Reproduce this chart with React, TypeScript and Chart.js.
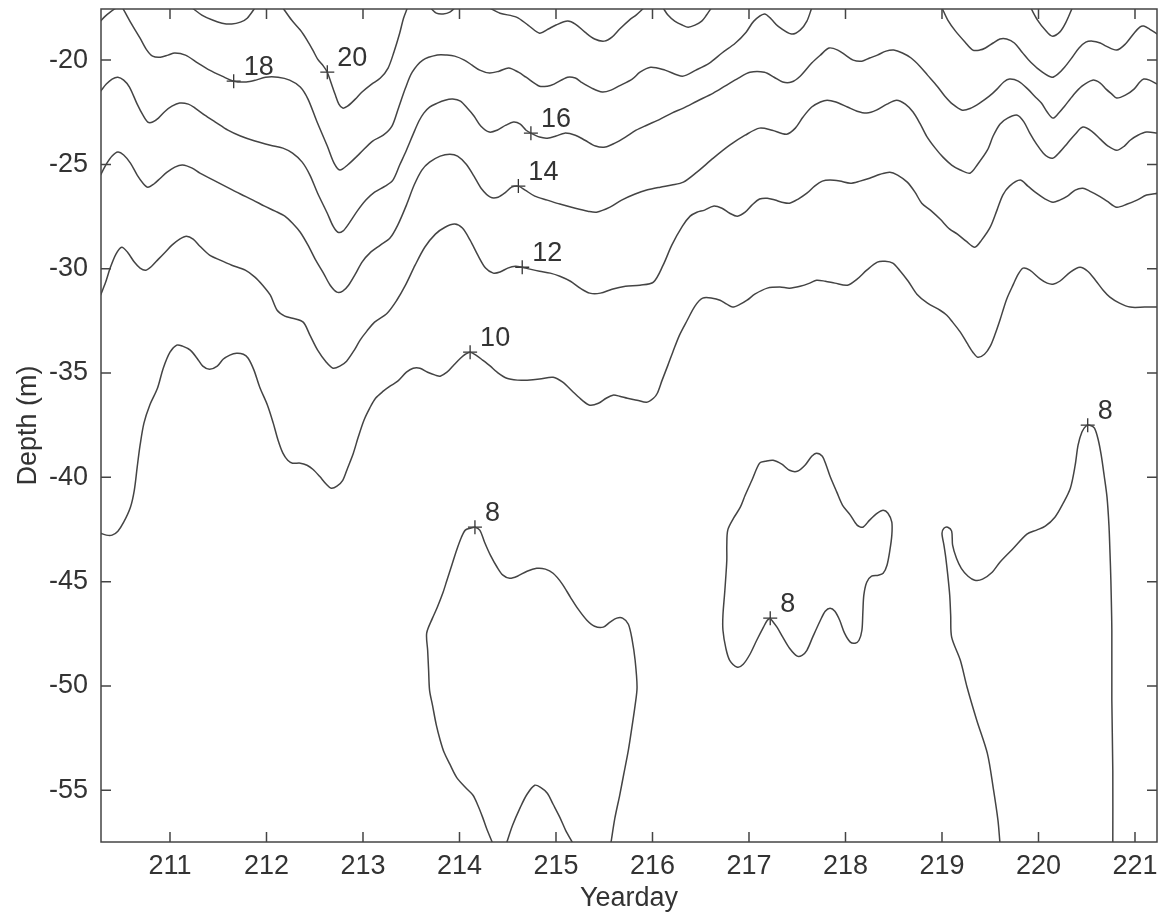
import React, { useEffect, useRef } from 'react';
import { Chart, registerables } from 'chart.js';

Chart.register(...registerables);

// Axis ticks
const xTicks = [211, 212, 213, 214, 215, 216, 217, 218, 219, 220, 221];
const yTicks = [-20, -25, -30, -35, -40, -45, -50, -55];

// Contour segments [yearday, depth]
const c22a = [[210.28, -18.13], [210.33, -17.89], [210.38, -17.70], [210.44, -17.5]];
const c22b = [[211.23, -17.5], [211.33, -17.84], [211.44, -18.08], [211.54, -18.23], [211.64, -18.27], [211.73, -18.18], [211.80, -17.99], [211.88, -17.5]];

const c20a = [[212.17, -17.5], [212.26, -18.08], [212.35, -18.56], [212.42, -19.04], [212.48, -19.52], [212.53, -19.95], [212.59, -20.29], [212.63, -20.58], [212.67, -21.10], [212.71, -21.63], [212.75, -22.11], [212.79, -22.30], [212.84, -22.21], [212.92, -21.87], [212.99, -21.53], [213.09, -21.15], [213.18, -20.86], [213.26, -20.38], [213.32, -19.62], [213.38, -18.71], [213.42, -17.99], [213.46, -17.5]];
const c20b = [[214.31, -17.5], [214.42, -17.75], [214.59, -17.94], [214.71, -18.32], [214.83, -18.71], [214.92, -18.51], [215.00, -18.32], [215.12, -18.13], [215.20, -18.27], [215.30, -18.66], [215.40, -18.99], [215.50, -19.09], [215.58, -18.90], [215.66, -18.51], [215.76, -18.08], [215.83, -17.84], [215.91, -17.5]];
const c20c = [[213.70, -17.5], [213.76, -17.75], [213.83, -17.79], [213.90, -17.70], [213.95, -17.5]];
const c20d = [[216.11, -17.5], [216.16, -17.84], [216.23, -18.13], [216.31, -18.32], [216.37, -18.42], [216.44, -18.32], [216.51, -18.13], [216.56, -17.84], [216.61, -17.5]];
const c20e = [[219.92, -17.5], [219.99, -18.08], [220.07, -18.56], [220.14, -18.85], [220.22, -18.66], [220.28, -18.23], [220.35, -17.5]];

const c18a = [[210.51, -17.5], [210.59, -18.18], [210.69, -18.95], [210.76, -19.52], [210.82, -19.81], [210.90, -19.86], [210.98, -19.76], [211.05, -19.66], [211.16, -19.76], [211.29, -20.14], [211.41, -20.48], [211.54, -20.77], [211.66, -21.01], [211.79, -21.05], [211.89, -20.96], [211.99, -20.82], [212.12, -20.82], [212.24, -20.96], [212.35, -21.29], [212.43, -21.87], [212.52, -22.92], [212.63, -24.12], [212.70, -24.94], [212.76, -25.27], [212.84, -25.03], [212.97, -24.46], [213.10, -23.88], [213.21, -23.60], [213.30, -23.16], [213.36, -22.40], [213.44, -21.34], [213.51, -20.58], [213.62, -20.00], [213.77, -19.76], [213.87, -19.76], [213.95, -19.81], [214.05, -20.00], [214.13, -20.24], [214.21, -20.48], [214.31, -20.62], [214.41, -20.53], [214.51, -20.38], [214.61, -20.58], [214.69, -20.82], [214.83, -21.25], [214.91, -21.25], [214.98, -21.15], [215.12, -20.82], [215.20, -20.86], [215.26, -21.05], [215.37, -21.34], [215.48, -21.53], [215.57, -21.44], [215.65, -21.25], [215.79, -20.91], [215.87, -20.58], [215.98, -20.34], [216.13, -20.48], [216.31, -20.77], [216.45, -20.48], [216.59, -20.14], [216.72, -19.66], [216.86, -19.18], [216.97, -18.66], [217.05, -18.13], [217.16, -17.79], [217.23, -18.03], [217.30, -18.37], [217.44, -18.75], [217.53, -18.56], [217.60, -18.13], [217.65, -17.5]];
const c18b = [[219.00, -17.5], [219.06, -18.08], [219.14, -18.61], [219.24, -19.14], [219.32, -19.52], [219.39, -19.52], [219.45, -19.42], [219.53, -19.18], [219.60, -18.99], [219.67, -18.99], [219.75, -19.18], [219.83, -19.62], [219.92, -20.10], [220.04, -20.58], [220.14, -20.82], [220.20, -20.67], [220.27, -20.34], [220.35, -19.86], [220.42, -19.42], [220.49, -19.14], [220.56, -19.09], [220.64, -19.18], [220.70, -19.33], [220.81, -19.52], [220.90, -19.23], [220.99, -18.71], [221.05, -18.42], [221.09, -18.37], [221.15, -18.51], [221.23, -18.75]];

const c16 = [[210.28, -21.49], [210.34, -21.15], [210.40, -20.91], [210.46, -20.82], [210.52, -20.96], [210.58, -21.29], [210.66, -22.11], [210.72, -22.64], [210.77, -22.97], [210.82, -22.97],
  [210.88, -22.78], [210.95, -22.45], [211.02, -22.21], [211.10, -22.06], [211.19, -22.11], [211.26, -22.30], [211.36, -22.64], [211.47, -22.97], [211.60, -23.36], [211.73, -23.64],
  [211.88, -23.88], [212.04, -24.08], [212.17, -24.22], [212.27, -24.46], [212.37, -24.89], [212.45, -25.51], [212.53, -26.38], [212.63, -27.34], [212.69, -27.96], [212.74, -28.25],
  [212.79, -28.20], [212.85, -27.86], [212.94, -27.24], [213.03, -26.71], [213.12, -26.33], [213.23, -26.04], [213.31, -25.75], [213.38, -25.03], [213.45, -24.32], [213.52, -23.55],
  [213.58, -22.92], [213.63, -22.54], [213.69, -22.25], [213.77, -22.06], [213.85, -21.92], [213.93, -21.87], [214.01, -21.97], [214.08, -22.30], [214.15, -22.68], [214.22, -23.16],
  [214.31, -23.45], [214.39, -23.36], [214.48, -23.12], [214.56, -22.97], [214.63, -23.07], [214.69, -23.36], [214.74, -23.50], [214.83, -23.69], [214.91, -23.74], [215.00, -23.64],
  [215.09, -23.50], [215.20, -23.60], [215.30, -23.84], [215.41, -24.12], [215.51, -24.17], [215.61, -23.98], [215.72, -23.69], [215.83, -23.36], [215.94, -23.12], [216.08, -22.83],
  [216.20, -22.54], [216.32, -22.30], [216.46, -21.97], [216.63, -21.58], [216.75, -21.25], [216.89, -20.86], [217.01, -20.58], [217.16, -20.58], [217.26, -20.82], [217.35, -21.05],
  [217.44, -21.05], [217.53, -20.77], [217.65, -20.14], [217.74, -19.76], [217.83, -19.42], [217.92, -19.52], [218.00, -19.76], [218.08, -20.00], [218.17, -20.05], [218.25, -19.90],
  [218.33, -19.76], [218.42, -19.57], [218.50, -19.52], [218.59, -19.66], [218.68, -19.90], [218.77, -20.29], [218.85, -20.72], [218.95, -21.25], [219.03, -21.73], [219.11, -22.11],
  [219.21, -22.40], [219.30, -22.30], [219.39, -22.06], [219.49, -21.73], [219.57, -21.39], [219.64, -21.05], [219.70, -20.91], [219.79, -21.01], [219.89, -21.39], [219.96, -21.73],
  [220.03, -22.06], [220.09, -22.49], [220.15, -22.78], [220.21, -22.54], [220.27, -22.21], [220.36, -21.68], [220.45, -21.25], [220.56, -20.96], [220.64, -21.10], [220.70, -21.39],
  [220.76, -21.63], [220.81, -21.82], [220.90, -21.68], [220.99, -21.39], [221.05, -21.05], [221.09, -20.91], [221.15, -20.96], [221.23, -21.15]];

const c14 = [[210.28, -25.51], [210.34, -24.99], [210.40, -24.60], [210.46, -24.41], [210.52, -24.55], [210.59, -24.94], [210.66, -25.51], [210.72, -25.90], [210.77, -26.09], [210.83, -25.95],
  [210.90, -25.66], [210.97, -25.37], [211.05, -25.13], [211.13, -25.03], [211.23, -25.18], [211.31, -25.42], [211.45, -25.75], [211.59, -26.09], [211.73, -26.42], [211.86, -26.71],
  [211.98, -27.00], [212.09, -27.24], [212.19, -27.48], [212.27, -27.82], [212.35, -28.25], [212.43, -28.87], [212.51, -29.59], [212.59, -30.21], [212.66, -30.79], [212.73, -31.12],
  [212.79, -31.07], [212.85, -30.79], [212.92, -30.26], [212.99, -29.68], [213.07, -29.25], [213.18, -28.87], [213.28, -28.53], [213.36, -27.91], [213.45, -26.95], [213.53, -25.99],
  [213.61, -25.27], [213.69, -24.89], [213.80, -24.60], [213.90, -24.51], [213.98, -24.60], [214.07, -24.99], [214.15, -25.56], [214.23, -26.18], [214.32, -26.57], [214.40, -26.57],
  [214.48, -26.33], [214.54, -26.09], [214.61, -26.04], [214.68, -26.23], [214.78, -26.52], [214.91, -26.71], [215.04, -26.90], [215.20, -27.10], [215.33, -27.24], [215.42, -27.29],
  [215.56, -27.05], [215.68, -26.71], [215.82, -26.42], [215.94, -26.23], [216.08, -26.09], [216.20, -25.99], [216.32, -25.85], [216.46, -25.37], [216.63, -24.70], [216.80, -24.08],
  [216.96, -23.60], [217.11, -23.26], [217.24, -23.36], [217.39, -23.55], [217.48, -23.26], [217.56, -22.73], [217.65, -22.25], [217.74, -22.01], [217.81, -21.92], [217.90, -22.01],
  [218.02, -22.25], [218.12, -22.45], [218.22, -22.54], [218.32, -22.40], [218.43, -22.11], [218.53, -21.92], [218.62, -22.11], [218.70, -22.49], [218.77, -23.02], [218.84, -23.64],
  [218.93, -24.22], [219.01, -24.65], [219.10, -25.03], [219.19, -25.27], [219.29, -25.42], [219.37, -24.99], [219.47, -24.32], [219.53, -23.64], [219.60, -23.07], [219.68, -22.78],
  [219.78, -22.64], [219.85, -22.97], [219.91, -23.50], [219.98, -24.03], [220.05, -24.46], [220.10, -24.65], [220.15, -24.70], [220.22, -24.41], [220.30, -23.98], [220.38, -23.55],
  [220.46, -23.21], [220.55, -23.40], [220.64, -23.79], [220.72, -24.12], [220.81, -24.32], [220.89, -24.12], [220.95, -23.84], [221.03, -23.60], [221.12, -23.45], [221.24, -23.50]];

const c12 = [[210.28, -31.27], [210.33, -30.69], [210.38, -29.97], [210.44, -29.30], [210.50, -28.97], [210.56, -29.21], [210.63, -29.68], [210.69, -29.97], [210.75, -30.07], [210.81, -29.88],
  [210.88, -29.54], [210.95, -29.21], [211.02, -28.87], [211.10, -28.58], [211.17, -28.44], [211.24, -28.58], [211.31, -28.92], [211.41, -29.35], [211.52, -29.59], [211.64, -29.83],
  [211.78, -30.07], [211.88, -30.40], [211.96, -30.79], [212.04, -31.27], [212.11, -31.99], [212.19, -32.27], [212.27, -32.37], [212.38, -32.56], [212.45, -33.18], [212.53, -33.90],
  [212.62, -34.48], [212.69, -34.77], [212.76, -34.67], [212.83, -34.43], [212.91, -33.90], [212.97, -33.42], [213.04, -32.99], [213.12, -32.56], [213.25, -32.13], [213.35, -31.51],
  [213.44, -30.79], [213.54, -29.83], [213.64, -28.97], [213.75, -28.34], [213.85, -28.01], [213.95, -27.86], [214.03, -28.05], [214.11, -28.63], [214.19, -29.35], [214.27, -29.97],
  [214.35, -30.21], [214.42, -30.16], [214.50, -29.97], [214.58, -29.88], [214.65, -29.93], [214.73, -30.02], [214.83, -30.12], [214.94, -30.21], [215.04, -30.36], [215.15, -30.60],
  [215.25, -30.93], [215.35, -31.17], [215.46, -31.17], [215.58, -30.98], [215.72, -30.84], [215.87, -30.79], [216.01, -30.64], [216.11, -29.83], [216.20, -28.87], [216.31, -27.96],
  [216.39, -27.48], [216.46, -27.29], [216.54, -27.19], [216.63, -27.00], [216.72, -27.10], [216.80, -27.34], [216.88, -27.48], [216.96, -27.29], [217.03, -26.95], [217.11, -26.66],
  [217.19, -26.62], [217.27, -26.71], [217.34, -26.81], [217.42, -26.86], [217.51, -26.66], [217.60, -26.38], [217.68, -26.04], [217.76, -25.80], [217.84, -25.75], [217.94, -25.80],
  [218.05, -25.90], [218.15, -25.80], [218.25, -25.66], [218.36, -25.47], [218.46, -25.37], [218.54, -25.51], [218.64, -25.85], [218.72, -26.33], [218.79, -26.86], [218.88, -27.19],
  [218.98, -27.62], [219.08, -28.10], [219.16, -28.34], [219.25, -28.68], [219.34, -28.97], [219.41, -28.63], [219.50, -28.01], [219.57, -27.19], [219.63, -26.47], [219.70, -26.04],
  [219.81, -25.75], [219.89, -26.04], [219.98, -26.38], [220.07, -26.66], [220.15, -26.81], [220.22, -26.71], [220.30, -26.52], [220.38, -26.23], [220.46, -26.14], [220.53, -26.28],
  [220.61, -26.47], [220.71, -26.76], [220.81, -27.05], [220.92, -26.90], [221.02, -26.71], [221.12, -26.47], [221.24, -26.38]];

const c10 = [[210.28, -42.68], [210.34, -42.77], [210.40, -42.77], [210.46, -42.58], [210.52, -42.15], [210.59, -41.43], [210.63, -40.62], [210.66, -39.51], [210.69, -38.46], [210.73, -37.40],
  [210.79, -36.54], [210.87, -35.73], [210.93, -34.77], [211.00, -34.00], [211.07, -33.66], [211.13, -33.71], [211.21, -33.90], [211.28, -34.29], [211.34, -34.67], [211.41, -34.82],
  [211.49, -34.67], [211.55, -34.34], [211.62, -34.14], [211.69, -34.05], [211.76, -34.10], [211.81, -34.29], [211.87, -34.86], [211.93, -35.68], [212.01, -36.54], [212.07, -37.40],
  [212.12, -38.22], [212.17, -38.84], [212.22, -39.18], [212.27, -39.32], [212.35, -39.32], [212.42, -39.42], [212.48, -39.61], [212.55, -39.95], [212.62, -40.33], [212.67, -40.52],
  [212.73, -40.42], [212.79, -40.14], [212.84, -39.56], [212.90, -38.84], [212.95, -38.08], [213.01, -37.26], [213.07, -36.68], [213.13, -36.21], [213.21, -35.87], [213.28, -35.63],
  [213.36, -35.39], [213.45, -34.96], [213.52, -34.77], [213.59, -34.77], [213.67, -34.96], [213.75, -35.10], [213.80, -35.15], [213.87, -34.96], [213.93, -34.67], [214.01, -34.29],
  [214.06, -34.10], [214.11, -34.00], [214.17, -34.14], [214.24, -34.38], [214.32, -34.67], [214.39, -34.96], [214.49, -35.25], [214.60, -35.34], [214.70, -35.34], [214.83, -35.29],
  [214.97, -35.20], [215.07, -35.44], [215.18, -35.92], [215.27, -36.30], [215.35, -36.54], [215.44, -36.45], [215.52, -36.21], [215.59, -36.06], [215.66, -36.11], [215.74, -36.21],
  [215.84, -36.30], [215.94, -36.40], [216.01, -36.21], [216.05, -35.97], [216.10, -35.34], [216.16, -34.62], [216.21, -34.00], [216.28, -33.18], [216.36, -32.47], [216.44, -31.79],
  [216.52, -31.41], [216.62, -31.41], [216.70, -31.51], [216.77, -31.70], [216.83, -31.84], [216.91, -31.70], [216.98, -31.51], [217.06, -31.22], [217.19, -30.93], [217.32, -30.88],
  [217.42, -30.93], [217.53, -30.84], [217.63, -30.69], [217.70, -30.55], [217.79, -30.60], [217.89, -30.69], [218.02, -30.79], [218.12, -30.50], [218.22, -30.07], [218.33, -29.68],
  [218.41, -29.64], [218.49, -29.73], [218.56, -30.07], [218.65, -30.60], [218.74, -31.22], [218.85, -31.65], [218.98, -31.99], [219.05, -32.23], [219.11, -32.56], [219.19, -33.04],
  [219.26, -33.57], [219.32, -34.00], [219.37, -34.24], [219.44, -34.10], [219.50, -33.71], [219.55, -33.14], [219.60, -32.47], [219.67, -31.46], [219.74, -30.74], [219.79, -30.26],
  [219.84, -29.97], [219.91, -30.07], [220.02, -30.50], [220.09, -30.69], [220.15, -30.74], [220.22, -30.60], [220.33, -30.16], [220.43, -29.93], [220.51, -30.12], [220.59, -30.55],
  [220.67, -31.03], [220.74, -31.36], [220.84, -31.65], [220.95, -31.84], [221.10, -31.84], [221.24, -31.84]];

const c8a = [[214.34, -57.5], [214.28, -56.82], [214.24, -56.30], [214.19, -55.72], [214.14, -55.24], [214.06, -54.86], [213.97, -54.38], [213.90, -53.75], [213.84, -53.18], [213.80, -52.60], [213.76, -51.88], [213.72, -50.92], [213.69, -50.21], [213.68, -49.25], [213.67, -48.29], [213.66, -47.47], [213.72, -46.75], [213.77, -46.23], [213.83, -45.51], [213.87, -44.93], [213.92, -44.21], [213.97, -43.49], [214.02, -42.87], [214.06, -42.53], [214.11, -42.44], [214.16, -42.39], [214.21, -42.53], [214.26, -43.11], [214.32, -43.73], [214.39, -44.31], [214.45, -44.69], [214.52, -44.84], [214.60, -44.74], [214.70, -44.50], [214.80, -44.36], [214.89, -44.40], [214.97, -44.60], [215.06, -45.08], [215.15, -45.75], [215.23, -46.32], [215.32, -46.85], [215.40, -47.14], [215.49, -47.18], [215.56, -46.94], [215.63, -46.75], [215.69, -46.75], [215.75, -47.04], [215.79, -47.81], [215.82, -48.77], [215.84, -50.06], [215.82, -50.92], [215.79, -51.88], [215.75, -53.08], [215.70, -54.28], [215.66, -55.24], [215.61, -56.34], [215.57, -57.5]];
const c8b = [[214.49, -57.5], [214.55, -56.68], [214.63, -55.82], [214.70, -55.19], [214.78, -54.76], [214.84, -54.86], [214.91, -55.14], [214.97, -55.67], [215.04, -56.30], [215.10, -56.92], [215.17, -57.5]];
const c8c = [[217.22, -46.75], [217.29, -47.18], [217.35, -47.66], [217.42, -48.19], [217.50, -48.57], [217.55, -48.53], [217.60, -48.29], [217.66, -47.66], [217.74, -46.85], [217.79, -46.42], [217.84, -46.27], [217.89, -46.42], [217.94, -46.85], [217.99, -47.47], [218.05, -47.90], [218.10, -47.95], [218.14, -47.81], [218.17, -47.33], [218.18, -46.46], [218.19, -45.65], [218.22, -45.03], [218.27, -44.74], [218.34, -44.69], [218.39, -44.60], [218.43, -44.21], [218.46, -43.49], [218.48, -42.77], [218.48, -42.15], [218.44, -41.72], [218.39, -41.58], [218.33, -41.72], [218.25, -42.05], [218.18, -42.39], [218.12, -42.29], [218.05, -41.81], [217.97, -41.34], [217.91, -40.71], [217.84, -39.95], [217.80, -39.42], [217.76, -38.99], [217.70, -38.84], [217.65, -38.99], [217.58, -39.42], [217.50, -39.71], [217.42, -39.66], [217.34, -39.37], [217.25, -39.18], [217.17, -39.23], [217.11, -39.32], [217.03, -40.14], [216.96, -40.86], [216.91, -41.43], [216.84, -41.96], [216.78, -42.53], [216.77, -43.25], [216.77, -43.97], [216.75, -45.41], [216.73, -46.61], [216.73, -47.33], [216.76, -48.19], [216.80, -48.77], [216.88, -49.10], [216.94, -48.96], [217.01, -48.48], [217.08, -47.81], [217.15, -47.18], [217.19, -46.85], [217.22, -46.75]];
const c8d = [[219.60, -57.5], [219.58, -56.44], [219.53, -54.86], [219.47, -53.23], [219.36, -51.64], [219.26, -50.06], [219.19, -48.77], [219.10, -47.66], [219.09, -46.61], [219.08, -45.65], [219.06, -44.69], [219.04, -43.88], [219.02, -43.25], [219.00, -42.68], [219.02, -42.44], [219.06, -42.39], [219.10, -42.58], [219.11, -43.25], [219.15, -43.88], [219.20, -44.36], [219.27, -44.74], [219.34, -44.93], [219.42, -44.88], [219.52, -44.55], [219.60, -44.07], [219.74, -43.40], [219.88, -42.72], [219.98, -42.53], [220.07, -42.34], [220.17, -41.91], [220.25, -41.29], [220.33, -40.52], [220.38, -39.42], [220.41, -38.46], [220.45, -37.83], [220.49, -37.55], [220.53, -37.50], [220.58, -37.64], [220.62, -38.22], [220.65, -38.94], [220.68, -39.90], [220.71, -40.95], [220.73, -42.29], [220.74, -43.49], [220.75, -44.93], [220.76, -47.33], [220.76, -50.68], [220.77, -54.04], [220.77, -57.5]];

// Contour labels (with "+" markers)
const labelText = ['18', '20', '16', '14', '12', '10', '8', '8', '8'];
const labelX = [211.66, 212.63, 214.74, 214.61, 214.65, 214.11, 214.16, 217.22, 220.51];
const labelY = [-21.01, -20.58, -23.50, -26.04, -29.93, -34.00, -42.39, -46.75, -37.50];

const contours = [c22a, c22b, c20a, c20b, c20c, c20d, c20e, c18a, c18b, c16, c14, c12, c10, c8a, c8b, c8c, c8d];

const FONT = '"Liberation Sans", Arial, Helvetica, sans-serif';
const INK = '#333';

export default function App() {
  const ref = useRef<HTMLCanvasElement>(null);

  useEffect(() => {
    document.body.style.margin = '0';
    document.body.style.overflow = 'hidden';
    const canvas = ref.current;
    if (!canvas) return;

    const framePlugin = {
      id: 'framePlugin',
      afterDraw(chart: any) {
        const { ctx, chartArea } = chart;
        const { left, right, top, bottom } = chartArea;
        const xs = chart.scales.x;
        const ys = chart.scales.y;
        ctx.save();
        ctx.strokeStyle = '#444';
        ctx.lineWidth = 1.5;
        ctx.strokeRect(left, top, right - left, bottom - top);
        ctx.beginPath();
        const tl = 10;
        xTicks.forEach((v) => {
          const p = xs.getPixelForValue(v);
          ctx.moveTo(p, bottom);
          ctx.lineTo(p, bottom - tl);
          ctx.moveTo(p, top);
          ctx.lineTo(p, top + tl);
        });
        yTicks.forEach((v) => {
          const p = ys.getPixelForValue(v);
          ctx.moveTo(left, p);
          ctx.lineTo(left + tl, p);
          ctx.moveTo(right, p);
          ctx.lineTo(right - tl, p);
        });
        ctx.stroke();
        ctx.fillStyle = INK;
        ctx.font = '27px ' + FONT;
        ctx.textAlign = 'left';
        ctx.textBaseline = 'alphabetic';
        labelText.forEach((t, i) => {
          const px = xs.getPixelForValue(labelX[i]);
          const py = ys.getPixelForValue(labelY[i]);
          ctx.fillText(t, px + 10, py - 6);
        });
        ctx.restore();
      },
    };

    const datasets: any[] = contours.map((c) => ({
      data: c.map((p) => ({ x: p[0], y: p[1] })),
      showLine: true,
      borderColor: '#444',
      borderWidth: 1.5,
      pointRadius: 0,
      pointHoverRadius: 0,
      tension: 0.3,
      fill: false,
    }));
    datasets.push({
      data: labelX.map((x, i) => ({ x, y: labelY[i] })),
      showLine: false,
      pointStyle: 'cross',
      pointRadius: 7,
      pointHoverRadius: 7,
      borderColor: '#333',
      pointBorderColor: '#333',
      borderWidth: 1.3,
      pointBorderWidth: 1.3,
    });

    const chart = new Chart(canvas, {
      type: 'scatter',
      data: { datasets },
      options: {
        responsive: false,
        maintainAspectRatio: false,
        animation: false,
        events: [],
        layout: { autoPadding: false, padding: { top: 9, right: 1, left: 0, bottom: 0 } },
        plugins: {
          legend: { display: false },
          tooltip: { enabled: false },
        },
        scales: {
          x: {
            type: 'linear',
            min: 210.285,
            max: 221.228,
            afterBuildTicks: (s: any) => {
              s.ticks = xTicks.map((v) => ({ value: v }));
            },
            afterFit: (s: any) => {
              s.height = 71;
              s.paddingLeft = 0;
              s.paddingRight = 0;
            },
            grid: { display: false, drawTicks: false },
            border: { display: false },
            ticks: {
              autoSkip: false,
              maxRotation: 0,
              minRotation: 0,
              padding: 8,
              color: INK,
              font: { family: FONT, size: 27, lineHeight: 1.2 },
              callback: (v: any) => String(v),
            },
            title: {
              display: true,
              text: 'Yearday',
              color: INK,
              font: { family: FONT, size: 27, lineHeight: 1.1 },
              padding: 0,
            },
          },
          y: {
            type: 'linear',
            min: -57.48,
            max: -17.55,
            afterBuildTicks: (s: any) => {
              s.ticks = yTicks.map((v) => ({ value: v }));
            },
            afterFit: (s: any) => {
              s.width = 101;
              s.paddingTop = 0;
              s.paddingBottom = 0;
            },
            grid: { display: false, drawTicks: false },
            border: { display: false },
            ticks: {
              autoSkip: false,
              padding: 13,
              color: INK,
              font: { family: FONT, size: 27, lineHeight: 1.2 },
              callback: (v: any) => String(v),
            },
            title: {
              display: true,
              text: 'Depth (m)',
              color: INK,
              font: { family: FONT, size: 27, lineHeight: 1.2 },
              padding: { top: 12, bottom: 0 },
            },
          },
        },
      },
      plugins: [framePlugin],
    } as any);

    return () => chart.destroy();
  }, []);

  return <canvas ref={ref} width={1158} height={913} style={{ display: 'block' }} />;
}
